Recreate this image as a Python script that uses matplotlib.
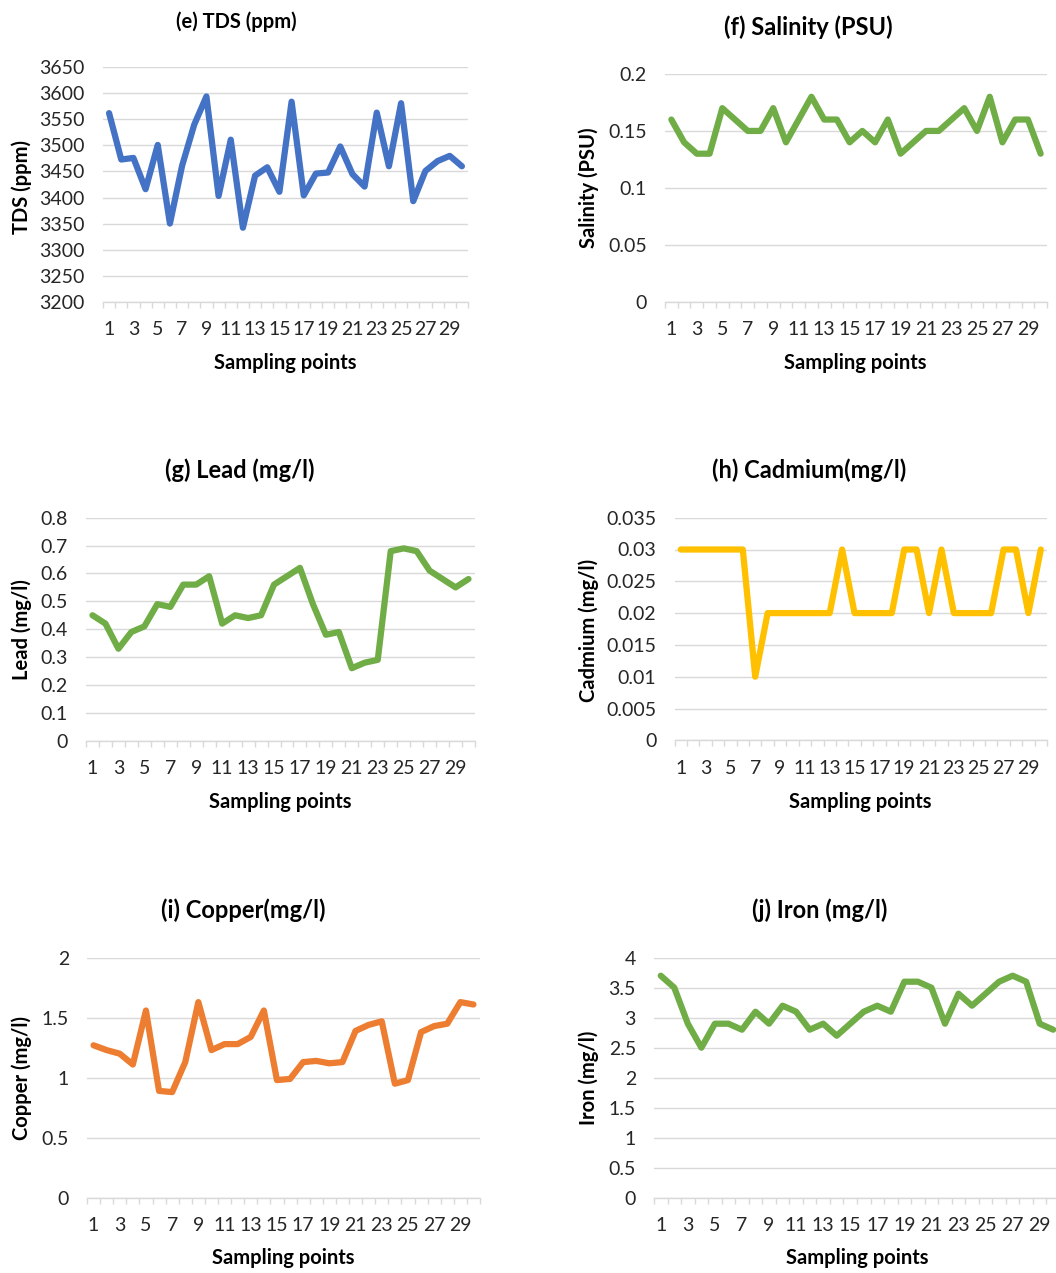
import matplotlib
matplotlib.use("Agg")
import matplotlib.pyplot as plt
from matplotlib.ticker import FixedLocator

plt.rcParams['font.family'] = ['Lato', 'DejaVu Sans']

points = list(range(1, 31))
xtick_labels = [str(i) for i in range(1, 31, 2)]

tds = [3562, 3473, 3476, 3416, 3501, 3350, 3461, 3540, 3594, 3403,
       3511, 3342, 3442, 3458, 3411, 3584, 3404, 3446, 3448, 3498,
       3445, 3421, 3563, 3460, 3581, 3393, 3451, 3470, 3480, 3460]
salinity = [0.16, 0.14, 0.13, 0.13, 0.17, 0.16, 0.15, 0.15, 0.17, 0.14,
            0.16, 0.18, 0.16, 0.16, 0.14, 0.15, 0.14, 0.16, 0.13, 0.14,
            0.15, 0.15, 0.16, 0.17, 0.15, 0.18, 0.14, 0.16, 0.16, 0.13]
lead = [0.45, 0.42, 0.33, 0.39, 0.41, 0.49, 0.48, 0.56, 0.56, 0.59,
        0.42, 0.45, 0.44, 0.45, 0.56, 0.59, 0.62, 0.49, 0.38, 0.39,
        0.26, 0.28, 0.29, 0.68, 0.69, 0.68, 0.61, 0.58, 0.55, 0.58]
cadmium = [0.03, 0.03, 0.03, 0.03, 0.03, 0.03, 0.01, 0.02, 0.02, 0.02,
           0.02, 0.02, 0.02, 0.03, 0.02, 0.02, 0.02, 0.02, 0.03, 0.03,
           0.02, 0.03, 0.02, 0.02, 0.02, 0.02, 0.03, 0.03, 0.02, 0.03]
copper = [1.27, 1.23, 1.20, 1.11, 1.56, 0.89, 0.88, 1.13, 1.63, 1.23,
          1.28, 1.28, 1.34, 1.56, 0.98, 0.99, 1.13, 1.14, 1.12, 1.13,
          1.39, 1.44, 1.47, 0.95, 0.98, 1.38, 1.43, 1.45, 1.63, 1.61]
iron = [3.7, 3.5, 2.9, 2.5, 2.9, 2.9, 2.8, 3.1, 2.9, 3.2,
        3.1, 2.8, 2.9, 2.7, 2.9, 3.1, 3.2, 3.1, 3.6, 3.6,
        3.5, 2.9, 3.4, 3.2, 3.4, 3.6, 3.7, 3.6, 2.9, 2.8]

tds_ticks = [3200, 3250, 3300, 3350, 3400, 3450, 3500, 3550, 3600, 3650]
tds_tick_labels = [str(v) for v in tds_ticks]
sal_ticks = [0, 0.05, 0.1, 0.15, 0.2]
sal_tick_labels = ["0", "0.05", "0.1", "0.15", "0.2"]
lead_ticks = [0, 0.1, 0.2, 0.3, 0.4, 0.5, 0.6, 0.7, 0.8]
lead_tick_labels = ["0", "0.1", "0.2", "0.3", "0.4", "0.5", "0.6", "0.7", "0.8"]
cad_ticks = [0, 0.005, 0.01, 0.015, 0.02, 0.025, 0.03, 0.035]
cad_tick_labels = ["0", "0.005", "0.01", "0.015", "0.02", "0.025", "0.03", "0.035"]
cu_ticks = [0, 0.5, 1, 1.5, 2]
cu_tick_labels = ["0", "0.5", "1", "1.5", "2"]
fe_ticks = [0, 0.5, 1, 1.5, 2, 2.5, 3, 3.5, 4]
fe_tick_labels = ["0", "0.5", "1", "1.5", "2", "2.5", "3", "3.5", "4"]

W, H = 1056, 1273
fig = plt.figure(figsize=(W / 100, H / 100), dpi=100)

GRID = "#D9D9D9"
TXT = "#262626"

panels = [
    (tds, "#4472C4", tds_ticks, tds_tick_labels, "(e) TDS (ppm)", "TDS (ppm)",
     (103, 468, 67.3, 301.7), (236, 22), 14.5, (22, 187), (285, 363)),
    (salinity, "#70AD47", sal_ticks, sal_tick_labels, "(f) Salinity (PSU)", "Salinity (PSU)",
     (665, 1047, 74, 301.7), (808, 27), 17, (589, 188), (855, 363)),
    (lead, "#70AD47", lead_ticks, lead_tick_labels, "(g) Lead (mg/l)", "Lead (mg/l)",
     (86, 475, 517.7, 740.7), (240, 470), 17, (22, 630), (280, 802)),
    (cadmium, "#FFC000", cad_ticks, cad_tick_labels, "(h) Cadmium(mg/l)", "Cadmium (mg/l)",
     (674.5, 1047, 517.7, 740.3), (809, 470), 17, (589, 630), (860, 802)),
    (copper, "#ED7D31", cu_ticks, cu_tick_labels, "(i) Copper(mg/l)", "Copper (mg/l)",
     (87, 480, 957.7, 1197.7), (243, 910), 17, (22, 1078), (283, 1258)),
    (iron, "#70AD47", fe_ticks, fe_tick_labels, "(j) Iron (mg/l)", "Iron (mg/l)",
     (654, 1060, 957.7, 1197.7), (820, 910), 17, (589, 1078), (857, 1258)),
]

for (vals, color, yt, ytl, title, ylabel, box, tpos, tsize, ypos, xpos) in panels:
    l, r, t, b = box
    ax = fig.add_axes([l / W, 1 - b / H, (r - l) / W, (b - t) / H])
    ax.plot(points, vals, color=color, lw=4.5, solid_joinstyle="round",
            solid_capstyle="round", clip_on=False, zorder=3)
    ax.set_xlim(0.5, 30.5)
    ax.set_ylim(yt[0], yt[-1])
    ax.set_yticks(yt)
    ax.set_yticklabels(ytl)
    ax.set_xticks(list(range(1, 31, 2)))
    ax.set_xticklabels(xtick_labels)
    ax.xaxis.set_minor_locator(FixedLocator([i + 0.5 for i in range(0, 31)]))
    ax.tick_params(axis="x", which="major", length=0, pad=14, labelsize=14, labelcolor=TXT)
    ax.tick_params(axis="x", which="minor", length=4, width=1, color=GRID)
    ax.tick_params(axis="y", length=0, pad=13, labelsize=14, labelcolor=TXT)
    for s in ("left", "top", "right"):
        ax.spines[s].set_visible(False)
    ax.spines["bottom"].set_color(GRID)
    ax.spines["bottom"].set_linewidth(1)
    ax.grid(axis="y", color=GRID, lw=1, zorder=0)
    ax.set_axisbelow(True)
    ax.set_facecolor("none")

    fig.text(tpos[0] / W, 1 - tpos[1] / H, title, ha="center", va="center",
             fontsize=tsize, fontweight="bold", color="black")
    fig.text(ypos[0] / W, 1 - ypos[1] / H, ylabel, ha="center", va="center",
             rotation=90, fontsize=14.5, fontweight="bold", color="black")
    fig.text(xpos[0] / W, 1 - xpos[1] / H, "Sampling points", ha="center", va="center",
             fontsize=14.5, fontweight="bold", color="black")

fig.savefig("out.png", dpi=100)
